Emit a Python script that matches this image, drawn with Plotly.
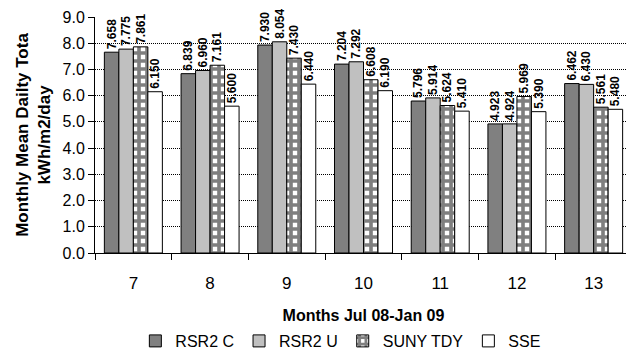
import plotly.graph_objects as go

months = ["7", "8", "9", "10", "11", "12", "13"]
rsr2_c = [7.658, 6.839, 7.930, 7.204, 5.796, 4.923, 6.462]
rsr2_u = [7.775, 6.960, 8.054, 7.292, 5.914, 4.924, 6.430]
suny_tdy = [7.861, 7.161, 7.430, 6.608, 5.624, 5.969, 5.561]
sse = [6.150, 5.600, 6.440, 6.190, 5.410, 5.390, 5.480]

font = "Liberation Sans, Arial, sans-serif"
lbl = dict(family=font, size=12, color="black", weight="bold")

fig = go.Figure()

def add(name, vals, color, pattern=None):
    marker = dict(color=color, line=dict(color="black", width=1))
    if pattern:
        marker["pattern"] = pattern
    fig.add_trace(go.Bar(
        name=name, x=months, y=vals, marker=marker,
        text=[f"{v:.3f}" for v in vals], textposition="outside",
        textangle=-90, textfont=lbl, cliponaxis=False, constraintext="none",
    ))

add("RSR2 C", rsr2_c, "#808080")
add("RSR2 U", rsr2_u, "#C0C0C0")
add("SUNY TDY", suny_tdy, "white",
    dict(shape="+", fgcolor="black", bgcolor="white", size=8, solidity=0.7))
add("SSE", sse, "white")

fig.update_layout(
    width=634, height=350,
    margin=dict(l=87, r=10, t=9, b=105),
    barmode="group", bargap=0.244, bargroupgap=0,
    plot_bgcolor="white", paper_bgcolor="white",
    font=dict(family=font, size=16, color="black"),
    showlegend=True,
    legend=dict(orientation="h", xref="container", yref="container",
                x=0.525, xanchor="center", y=0.0, yanchor="bottom",
                font=dict(size=16), itemwidth=30, tracegroupgap=0),
    xaxis=dict(
        title=dict(text="<b>Months Jul 08-Jan 09</b>", font=dict(size=16), standoff=27),
        showline=True, linecolor="black", linewidth=1,
        ticks="outside", ticklen=6, tickcolor="black",
        tickson="boundaries", tickfont=dict(size=17), ticklabelstandoff=15,
        automargin=False,
    ),
    yaxis=dict(
        title=dict(text="<b>Monthly Mean Dailty Tota<br>kWh/m2/day</b>", font=dict(size=17), standoff=7),
        range=[0, 9], dtick=1, tickformat=".1f",
        showline=True, linecolor="black", linewidth=1,
        ticks="outside", ticklen=6, tickcolor="black",
        showgrid=True, gridcolor="black", gridwidth=1, griddash="1px,1px",
        zeroline=False, tickfont=dict(size=16), automargin=False,
        ticklabeloverflow="allow",
    ),
)

fig.write_html("out.html")
